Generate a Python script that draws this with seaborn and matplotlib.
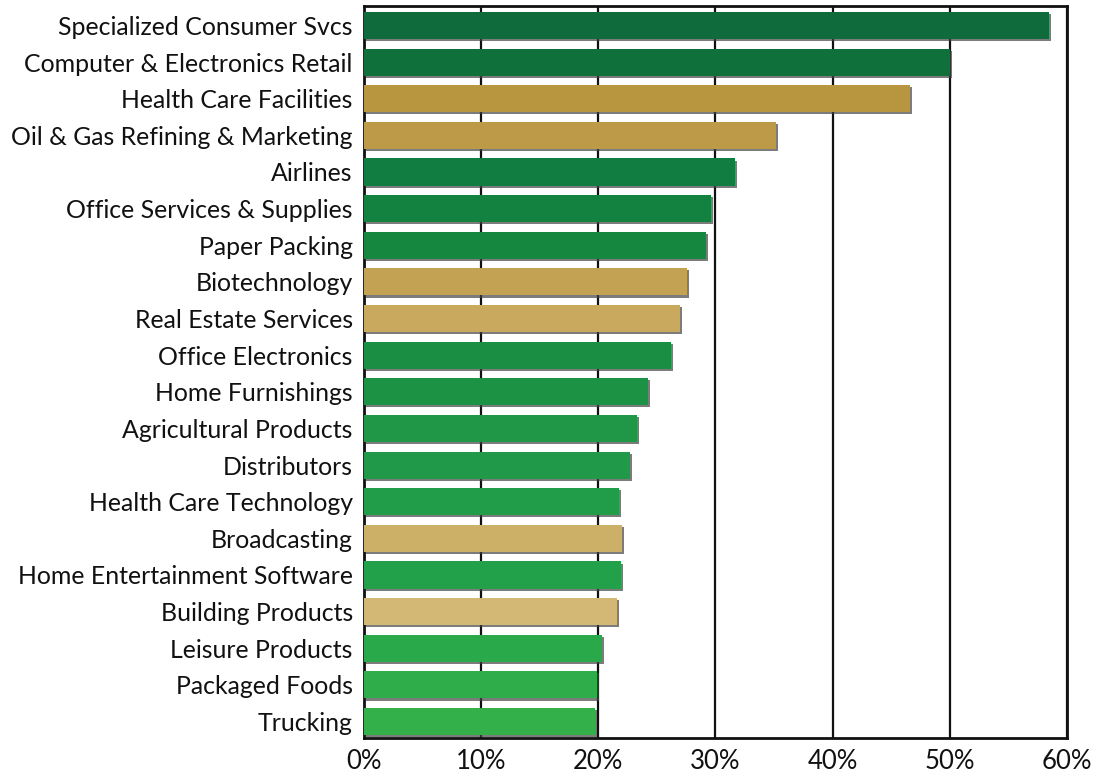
import matplotlib
matplotlib.use("Agg")
import matplotlib.pyplot as plt
import matplotlib.patheffects as pe
import seaborn as sns
import pandas as pd

categories = [
    "Specialized Consumer Svcs", "Computer & Electronics Retail", "Health Care Facilities",
    "Oil & Gas Refining & Marketing", "Airlines", "Office Services & Supplies", "Paper Packing",
    "Biotechnology", "Real Estate Services", "Office Electronics", "Home Furnishings",
    "Agricultural Products", "Distributors", "Health Care Technology", "Broadcasting",
    "Home Entertainment Software", "Building Products", "Leisure Products",
    "Packaged Foods", "Trucking",
]
values = [58.5, 50.0, 46.6, 35.2, 31.7, 29.6, 29.2, 27.6, 27.0, 26.2, 24.2,
          23.3, 22.7, 21.8, 22.0, 21.9, 21.6, 20.3, 19.9, 19.7]
colors = [
    "#0f6b3b", "#10703c", "#b8953f", "#bd9a48", "#127d40", "#13813f", "#16873f",
    "#c4a254", "#c9a95d", "#1a8f44", "#1c9245", "#1f9747", "#209948", "#219c48",
    "#cdb068", "#22a14a", "#d2b874", "#2aa94a", "#30ad4b", "#34b04a",
]
xticks = [0, 10, 20, 30, 40, 50, 60]
xtick_labels = ["0%", "10%", "20%", "30%", "40%", "50%", "60%"]

sns.set_theme(style="white")
plt.rcParams["font.family"] = ["Lato", "DejaVu Sans"]

df = pd.DataFrame({"category": categories, "value": values})

fig = plt.figure(figsize=(10.96, 7.8), dpi=100)
ax = fig.add_axes([0.3321, 0.0538, 0.6414, 0.9385])

sns.barplot(data=df, x="value", y="category", hue="category", palette=colors,
            orient="h", width=0.74, legend=False, ax=ax, saturation=1, zorder=3)

for p in ax.patches:
    p.set_path_effects([pe.SimplePatchShadow(offset=(1.5, -1.5), shadow_rgbFace="#444444", alpha=0.7),
                        pe.Normal()])
    p.set_edgecolor("none")

ax.set_xlim(0, 60)
ax.set_ylim(19.45, -0.53)
ax.set_xticks(xticks)
ax.set_xticklabels(xtick_labels)
ax.xaxis.grid(True, color="#111111", linewidth=1.6, zorder=0)
ax.set_axisbelow(True)
ax.set_xlabel("")
ax.set_ylabel("")
ax.tick_params(axis="y", length=0, pad=8, labelsize=17.9, labelcolor="#111111")
ax.tick_params(axis="x", length=0, pad=8, labelsize=18.5, labelcolor="#111111")
for s in ax.spines.values():
    s.set_visible(True)
    s.set_color("#111111")
    s.set_linewidth(2)

fig.savefig("out.png", dpi=100, facecolor="white")
